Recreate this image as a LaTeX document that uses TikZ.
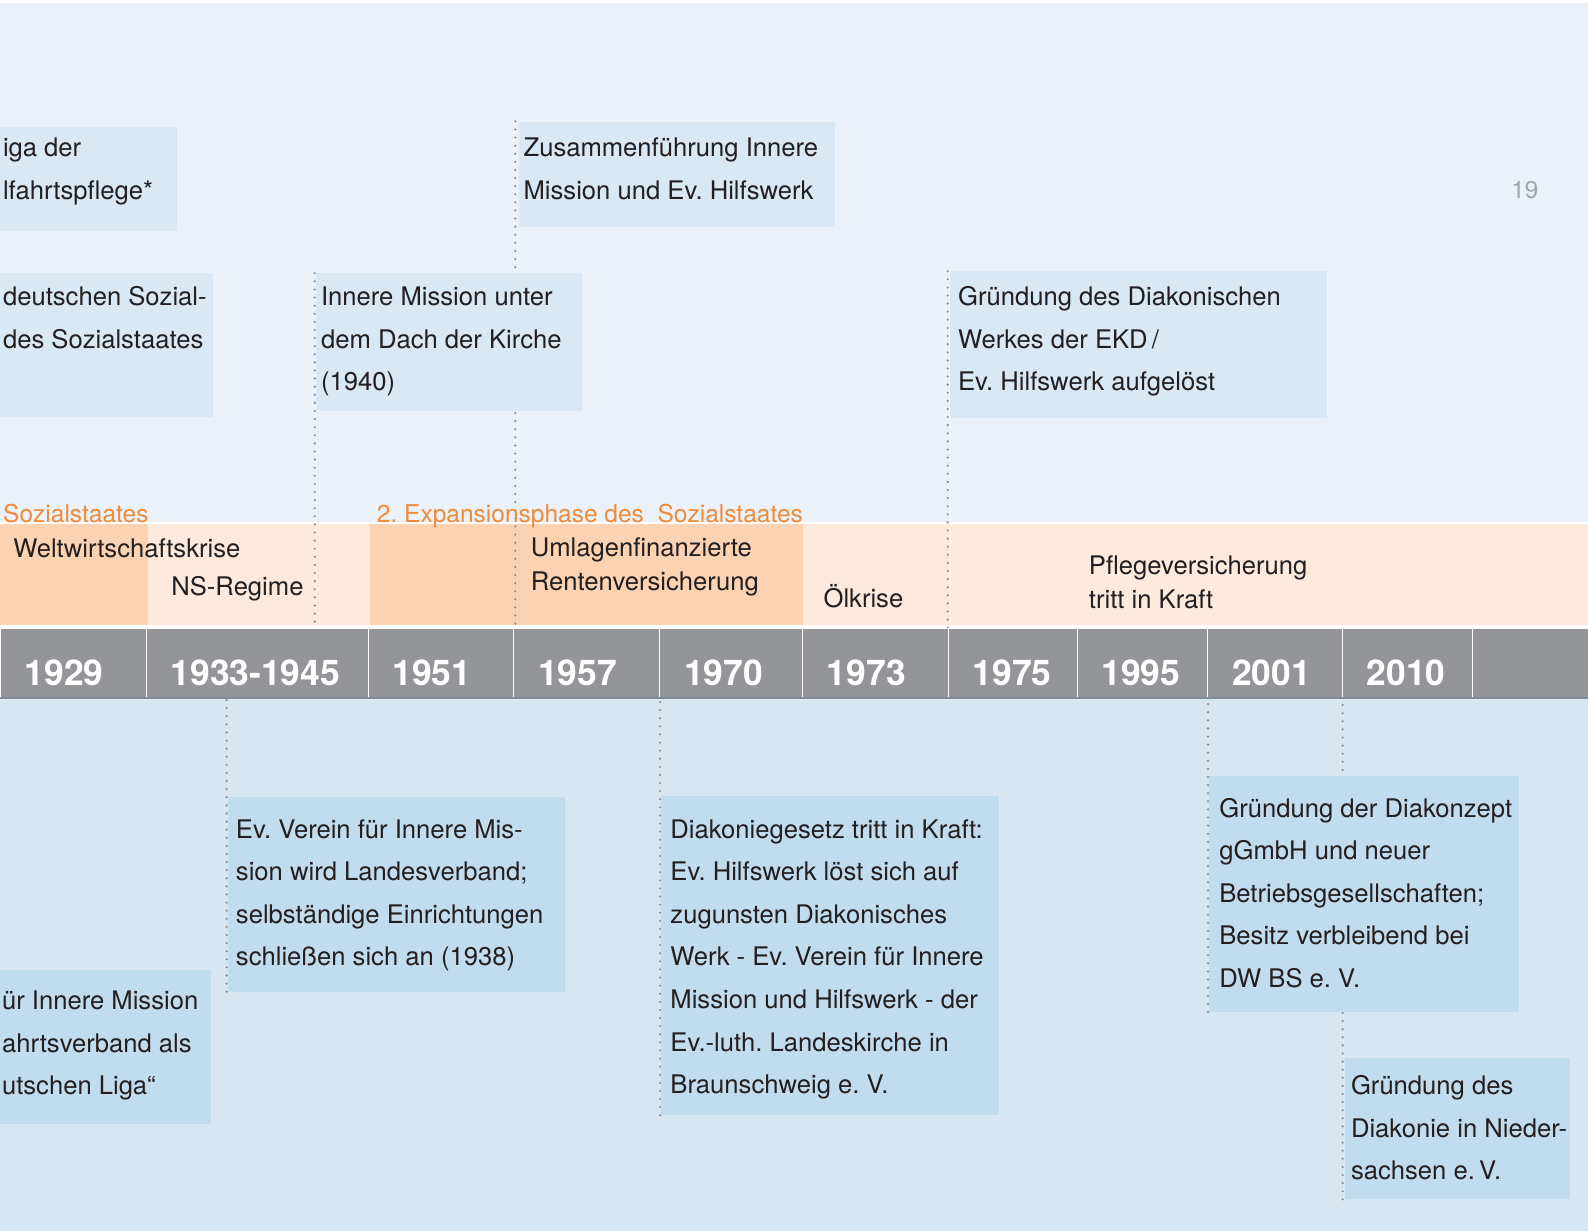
\documentclass[tikz,border=0pt]{standalone}
\usepackage{fontspec}
\setmainfont{TeX Gyre Heros}
\usepackage{xcolor}
\usepackage{tikz}
\usetikzlibrary{fit,backgrounds}
\frenchspacing

\definecolor{bgtop}{HTML}{EAF1F9}
\definecolor{bglow}{HTML}{D7E6F3}
\definecolor{boxtop}{HTML}{D8E8F5}
\definecolor{boxlow}{HTML}{C1DCEF}
\definecolor{bandlight}{HTML}{FDEADC}
\definecolor{banddark}{HTML}{FBD3B3}
\definecolor{phase}{HTML}{F08A37}
\definecolor{bargrey}{HTML}{939598}
\definecolor{baredge}{HTML}{7C8D9C}
\definecolor{ink}{HTML}{231F20}
\definecolor{dotgrey}{HTML}{86888B}
\definecolor{pagegrey}{HTML}{A3A6A9}

\begin{document}
\begin{tikzpicture}[x=1pt,y=-1pt]
  \tikzstyle{box_top}=[fill=boxtop, inner sep=0pt]
  \tikzstyle{box_low}=[fill=boxlow, inner sep=0pt]
  % multi-line texts sit on the baseline of their last line
  \tikzstyle{box_text}=[anchor=base west, align=left, inner sep=0pt, text=ink, font=\fontsize{25.3}{42}\selectfont]
  \tikzstyle{band_text}=[box_text, font=\fontsize{25.3}{34}\selectfont]
  \tikzstyle{phase_text}=[anchor=base west, inner sep=0pt, text=phase, font=\fontsize{24.2}{30}\selectfont]
  \tikzstyle{year_cell}=[fill=bargrey, draw=white, line width=1pt, anchor=north west, minimum height=68, inner sep=0pt, text=white, text height=44, text depth=0, font=\bfseries\fontsize{35}{40}\selectfont]
  \tikzstyle{link_line}=[draw=dotgrey, line width=2.3pt, line cap=round, dash pattern=on 0pt off 8pt]

  \useasboundingbox (0,0) rectangle (1568,1215);

  \begin{scope}[on background layer]
    \fill[white] (0,0) rectangle (1568,1215);
    \fill[bgtop] (0,3) rectangle (1568,515);
    \fill[bandlight] (0,517) rectangle (1568,617);
    \fill[banddark] (0,517) rectangle (146,617);
    \fill[banddark] (365,517) rectangle (793,617);
    \fill[bglow] (0,689) rectangle (1568,1215);
  \end{scope}

  % timeline bar
  \foreach \x/\w/\yr in {0/144/1929, 144/219/1933-1945, 363/144/1951, 507/144/1957, 651/141/1970,
                          792/144/1973, 936/127/1975, 1063/129/1995, 1192/133/2001, 1325/128/2010}
    \node[year_cell, minimum width=\w] (y\yr) at (\x,620) {\makebox[\dimexpr\w pt-48pt\relax][l]{\yr}};
  \node[year_cell, minimum width=115] (y-end) at (1453,620) {};
  \draw[baredge, line width=2pt] (y1929.south west) -- (y-end.south east);

  % phases and events on the band
  \node[phase_text] (phase1) at (3,516) {Sozialstaates};
  \node[phase_text] (phase2) at (372,516) {2. Expansionsphase des\ \ Sozialstaates};
  \node[band_text] (krise) at (13,550) {Weltwirtschaftskrise};
  \node[band_text] (ns) at (169,588) {NS-Regime};
  \node[band_text] (rente) at (524,583) {Umlagenfinanzierte\\Rentenversicherung};
  \node[band_text] (oel) at (813,600) {Ölkrise};
  \node[band_text] (pflege) at (1075,601) {Pflegeversicherung\\tritt in Kraft};

  % boxes above
  \node[box_top, fit={(0,125) (175,228)}] (liga) {};
  \node[box_text] (liga-text) at ([shift={(3,72)}]liga.north west) {iga der\\lfahrtspflege*};

  \node[box_top, fit={(0,270) (210,412)}] (sozial) {};
  \node[box_text] (sozial-text) at ([shift={(3,74)}]sozial.north west) {deutschen Sozial-\\des Sozialstaates};

  \node[box_top, fit={(312,270) (575,406)}] (imdach) {};
  \node[box_text] (imdach-text) at ([shift={(5,116)}]imdach.north west) {Innere Mission unter\\dem Dach der Kirche\\(1940)};

  \node[box_top, fit={(512,120) (824,224)}] (zusammen) {};
  \node[box_text] (zusammen-text) at ([shift={(5,77)}]zusammen.north west) {Zusammenführung Innere\\Mission und Ev. Hilfswerk};

  \node[box_top, fit={(938,268) (1310,413)}] (dwekd) {};
  \node[box_text] (dwekd-text) at ([shift={(8,118)}]dwekd.north west) {Gründung des Diakonischen\\Werkes der EKD\,/\\Ev. Hilfswerk aufgelöst};

  \node[pagegrey, anchor=base west, inner sep=0pt, font=\fontsize{24}{30}\selectfont] (page) at (1492,196) {19};

  % boxes below
  \node[box_low, fit={(225,787) (558,979)}] (landesverband) {};
  \node[box_text] (landesverband-text) at ([shift={(8,167)}]landesverband.north west) {Ev. Verein für Innere Mis-\\sion wird Landesverband;\\selbständige Einrichtungen\\schließen sich an (1938)};

  \node[box_low, fit={(0,958) (208,1110)}] (liga2) {};
  \node[box_text] (liga2-text) at ([shift={(2,123)}]liga2.north west) {ür Innere Mission\\ahrtsverband als\\utschen Liga“};

  \node[box_low, fit={(653,786) (986,1101)}] (gesetz) {};
  \node[box_text] (gesetz-text) at ([shift={(9,294)}]gesetz.north west) {Diakoniegesetz tritt in Kraft:\\Ev. Hilfswerk löst sich auf\\zugunsten Diakonisches\\Werk - Ev. Verein für Innere\\Mission und Hilfswerk - der\\Ev.-luth. Landeskirche in\\Braunschweig e. V.};

  \node[box_low, fit={(1194,766) (1500,999)}] (diakonzept) {};
  \node[box_text] (diakonzept-text) at ([shift={(10,209)}]diakonzept.north west) {Gründung der Diakonzept\\gGmbH und neuer\\Betriebsgesellschaften;\\Besitz verbleibend bei\\DW BS e. V.};

  \node[box_low, fit={(1328,1045) (1550,1184)}] (nds) {};
  \node[box_text] (nds-text) at ([shift={(6,120)}]nds.north west) {Gründung des\\Diakonie in Nieder-\\sachsen e.\,V.};

  % dotted links to the bar
  \coordinate (imdach-top) at ([xshift=-1pt]imdach.north west);
  \coordinate (zusammen-top) at ([xshift=-3pt]zusammen.north west);
  \coordinate (dwekd-top) at ([xshift=-2pt]dwekd.north west);
  \coordinate (landesverband-foot) at ([xshift=-1pt]landesverband.south west);
  \coordinate (gesetz-foot) at ([xshift=-1pt]gesetz.south west);
  \coordinate (diakonzept-foot) at ([xshift=-1pt]diakonzept.south west);
  \coordinate (nds-foot) at ([xshift=-2pt]nds.south west);
  \begin{scope}[on background layer]
    \draw[link_line] (imdach-top) -- (imdach-top |- y1933-1945.north);
    \draw[link_line] (zusammen-top) -- (zusammen-top |- y1957.north);
    \draw[link_line] (dwekd-top) -- (dwekd-top |- y1975.north);
    \draw[link_line] (landesverband-foot) -- (landesverband-foot |- y1933-1945.south);
    \draw[link_line] (gesetz-foot) -- (gesetz-foot |- y1970.south);
    \draw[link_line] (diakonzept-foot) -- (diakonzept-foot |- y2001.south);
    \draw[link_line] (nds-foot) -- (nds-foot |- y2010.south);
  \end{scope}
\end{tikzpicture}
\end{document}
